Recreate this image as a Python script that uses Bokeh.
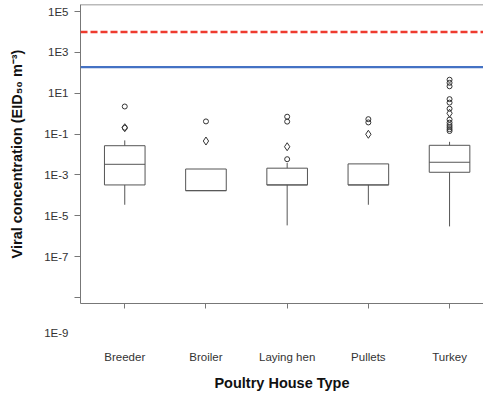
from bokeh.plotting import figure
from bokeh.models import (Range1d, FixedTicker, CustomJSTickFormatter, Span,
                          ColumnDataSource)
from bokeh.embed import file_html
from bokeh.resources import INLINE

# ---- data (log10 of EID50 m^-3) ----
categories = ["Breeder", "Broiler", "Laying hen", "Pullets", "Turkey"]
whisker_low_log = [-4.46, -3.77, -5.47, -4.46, -5.52]
q1_log = [-3.49, -3.77, -3.49, -3.49, -2.87]
median_log = [-2.48, -3.77, -3.49, -3.49, -2.38]
q3_log = [-1.57, -2.71, -2.67, -2.46, -1.55]
whisker_high_log = [-1.31, -2.71, -2.41, -2.46, -1.38]
mean_log = [-0.69, -1.34, -1.62, -1.01, 0.02]
outliers_log = {
    "Breeder": [0.35, -0.69],
    "Broiler": [-0.38],
    "Laying hen": [-0.15, -0.39, -2.23],
    "Pullets": [-0.27, -0.43],
    "Turkey": [1.66, 1.51, 1.34, 0.71, 0.54, 0.24, -0.29, -0.44, -0.56, -0.66, -0.76, -0.85],
}
red_threshold = 1e4
blue_threshold = 10 ** 2.28
y_tick_values = [1e5, 1e3, 1e1, 1e-1, 1e-3, 1e-5, 1e-7, 1e-9]

def tenpow(lst):
    return [10 ** v for v in lst]

xs = list(range(len(categories)))
half = 0.25
y_top = 10 ** 5.343

p = figure(width=483, height=394, output_backend="svg", toolbar_location=None,
           y_axis_type="log",
           x_range=Range1d(-0.545, 4.418),
           y_range=Range1d(10 ** -9.294, y_top),
           min_border_left=80, min_border_right=0, min_border_top=4, min_border_bottom=91)
p.outline_line_color = None
p.grid.visible = False
p.background_fill_color = "white"

box_color = "#555555"
src = ColumnDataSource(dict(
    x=xs, left=[x - half for x in xs], right=[x + half for x in xs],
    lo=tenpow(whisker_low_log), q1=tenpow(q1_log), med=tenpow(median_log),
    q3=tenpow(q3_log), hi=tenpow(whisker_high_log), mean=tenpow(mean_log)))

p.segment(x0="x", y0="q3", x1="x", y1="hi", source=src, line_color=box_color, line_width=1)
p.segment(x0="x", y0="q1", x1="x", y1="lo", source=src, line_color=box_color, line_width=1)
p.quad(left="left", right="right", bottom="q1", top="q3", source=src,
       fill_color=None, line_color=box_color, line_width=1)
p.segment(x0="left", y0="med", x1="right", y1="med", source=src, line_color=box_color, line_width=1)
p.scatter(x="x", y="mean", source=src, marker="diamond", size=8,
          fill_color=None, line_color="#333333", line_width=1)

ox, oy = [], []
for i, c in enumerate(categories):
    for v in outliers_log[c]:
        ox.append(i)
        oy.append(10 ** v)
p.scatter(ox, oy, marker="circle", size=5, fill_color=None, line_color="#333333", line_width=1)

p.add_layout(Span(location=red_threshold, dimension="width", line_color="#ee3b2e",
                  line_width=2.5, line_dash="7 3"))
p.add_layout(Span(location=blue_threshold, dimension="width", line_color="#4472c4",
                  line_width=2.2))
p.add_layout(Span(location=y_top, dimension="width", line_color="#777777", line_width=1.5))

font = "Liberation Sans"
ax = p.xaxis[0]
ax.ticker = FixedTicker(ticks=xs)
ax.formatter = CustomJSTickFormatter(args=dict(labels=categories),
                                     code="return labels[Math.round(tick)] || '';")
ax.minor_tick_line_color = None
ax.major_tick_in = 0
ax.major_tick_out = 5
ax.major_label_standoff = 42
ax.axis_label = "Poultry House Type"
ax.axis_label_standoff = 9

ay = p.yaxis[0]
ay.ticker = FixedTicker(ticks=y_tick_values, minor_ticks=[])
ay.formatter = CustomJSTickFormatter(code="""
const e = Math.round(Math.log10(tick));
return e == -9 ? '\\n\\n\\n\\n\\n1E-9' : '1E' + e;
""")
ay.minor_tick_line_color = None
ay.major_tick_in = 0
ay.major_tick_out = 6
ay.major_label_standoff = 6
ay.axis_label = "Viral concentration (EID\u2085\u2080 m\u207b\u00b3)"
ay.axis_label_standoff = 16

for a in (ax, ay):
    a.axis_line_color = "#777777"
    a.major_tick_line_color = "#777777"
    a.major_label_text_font = font
    a.major_label_text_font_size = "11.5px"
    a.major_label_text_color = "#333333"
    a.axis_label_text_font = font
    a.axis_label_text_font_size = "14.5px"
    a.axis_label_text_font_style = "bold"
    a.axis_label_text_color = "#111111"

open("out.html", "w").write(file_html(p, INLINE))
